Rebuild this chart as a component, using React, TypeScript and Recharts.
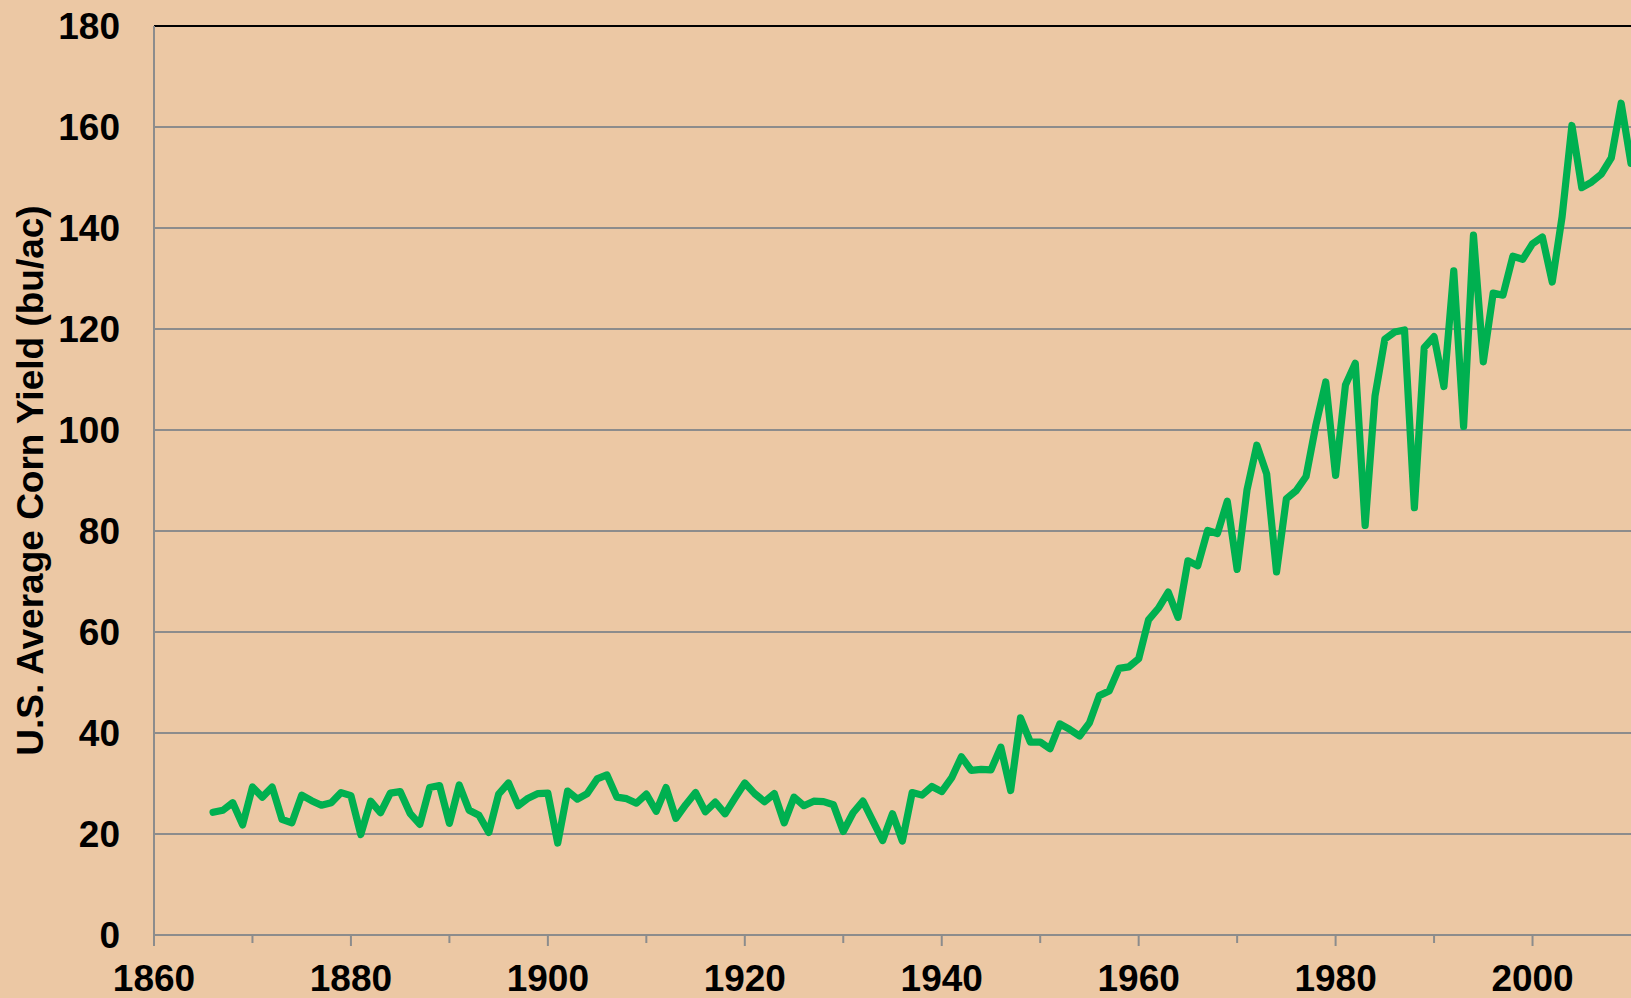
import React from 'react';
import { LineChart, Line, XAxis, YAxis, CartesianGrid, ReferenceLine, Label } from 'recharts';

const years = [
  1866, 1867, 1868, 1869, 1870, 1871, 1872, 1873, 1874, 1875,
  1876, 1877, 1878, 1879, 1880, 1881, 1882, 1883, 1884, 1885,
  1886, 1887, 1888, 1889, 1890, 1891, 1892, 1893, 1894, 1895,
  1896, 1897, 1898, 1899, 1900, 1901, 1902, 1903, 1904, 1905,
  1906, 1907, 1908, 1909, 1910, 1911, 1912, 1913, 1914, 1915,
  1916, 1917, 1918, 1919, 1920, 1921, 1922, 1923, 1924, 1925,
  1926, 1927, 1928, 1929, 1930, 1931, 1932, 1933, 1934, 1935,
  1936, 1937, 1938, 1939, 1940, 1941, 1942, 1943, 1944, 1945,
  1946, 1947, 1948, 1949, 1950, 1951, 1952, 1953, 1954, 1955,
  1956, 1957, 1958, 1959, 1960, 1961, 1962, 1963, 1964, 1965,
  1966, 1967, 1968, 1969, 1970, 1971, 1972, 1973, 1974, 1975,
  1976, 1977, 1978, 1979, 1980, 1981, 1982, 1983, 1984, 1985,
  1986, 1987, 1988, 1989, 1990, 1991, 1992, 1993, 1994, 1995,
  1996, 1997, 1998, 1999, 2000, 2001, 2002, 2003, 2004, 2005,
  2006, 2007, 2008, 2009, 2010,
];

const cornYield = [
  24.3, 24.7, 26.2, 21.8, 29.3, 27.3, 29.3, 22.9, 22.2, 27.7,
  26.6, 25.7, 26.2, 28.2, 27.6, 19.9, 26.5, 24.2, 28.1, 28.4,
  24.1, 21.9, 29.2, 29.6, 22.1, 29.7, 24.7, 23.7, 20.3, 27.9,
  30.1, 25.6, 27.1, 28.0, 28.1, 18.2, 28.5, 26.9, 28.0, 30.9,
  31.7, 27.3, 27.0, 26.1, 27.9, 24.5, 29.2, 23.1, 25.8, 28.2,
  24.4, 26.3, 24.0, 27.1, 30.1, 28.0, 26.4, 28.0, 22.2, 27.3,
  25.6, 26.5, 26.4, 25.8, 20.5, 24.2, 26.5, 22.6, 18.7, 24.0,
  18.6, 28.2, 27.7, 29.4, 28.4, 31.1, 35.3, 32.6, 32.8, 32.7,
  37.2, 28.6, 43.0, 38.2, 38.2, 36.9, 41.8, 40.7, 39.4, 42.0,
  47.4, 48.3, 52.8, 53.1, 54.7, 62.4, 64.7, 67.9, 62.9, 74.1,
  73.1, 80.1, 79.5, 85.9, 72.4, 88.1, 97.0, 91.3, 71.9, 86.4,
  88.0, 90.8, 101.0, 109.5, 91.0, 108.9, 113.2, 81.1, 106.7, 118.0,
  119.4, 119.8, 84.6, 116.3, 118.5, 108.6, 131.5, 100.7, 138.6, 113.5,
  127.1, 126.7, 134.4, 133.8, 136.9, 138.2, 129.3, 142.2, 160.3, 148.0,
  149.1, 150.7, 153.9, 164.7, 152.8,
];

const xTicks = [1860, 1870, 1880, 1890, 1900, 1910, 1920, 1930, 1940, 1950, 1960, 1970, 1980, 1990, 2000];
const xLabelTicks = [1860, 1880, 1900, 1920, 1940, 1960, 1980, 2000];
const yTicks = [0, 20, 40, 60, 80, 100, 120, 140, 160, 180];
const yTitle = 'U.S. Average Corn Yield (bu/ac)';

const data = years.map((year, i) => ({ year, yield: cornYield[i] }));

const FONT = '"Liberation Sans", Arial, Helvetica, sans-serif';
const BG = '#ECC8A4';
const GRID = '#8C8C8C';
const GREEN = '#00B050';
const FS = 37;

const XTick = (props: any) => {
  const { x, y, payload } = props;
  const major = xLabelTicks.includes(payload.value);
  return (
    <g>
      <line x1={x} x2={x} y1={y} y2={y + (major ? 11 : 8)} stroke={GRID} strokeWidth={2} />
      {major && (
        <text x={x} y={y + 56} textAnchor="middle" fill="#000" fontSize={FS} fontWeight="bold" fontFamily={FONT}>
          {payload.value}
        </text>
      )}
    </g>
  );
};

const TitleLabel = (props: any) => {
  const vb = props.viewBox || {};
  const cy = (vb.y ?? 26) + (vb.height ?? 909) / 2;
  const cx = (vb.x ?? 0) + 43;
  return (
    <text
      transform={`translate(${cx},${cy}) rotate(-90)`}
      x={0}
      y={0}
      textAnchor="middle"
      fill="#000"
      fontSize={FS}
      fontWeight="bold"
      fontFamily={FONT}
    >
      {yTitle}
    </text>
  );
};

export default function App() {
  return (
    <div style={{ position: 'absolute', left: 0, top: 0, width: 1631, height: 998, background: BG, overflow: 'hidden' }}>
      <LineChart width={1631} height={998} data={data} margin={{ top: 26, right: 0, left: 0, bottom: 0 }}>
        <CartesianGrid vertical={false} stroke={GRID} strokeWidth={2} />
        <XAxis
          dataKey="year"
          type="number"
          domain={[1860, 2010]}
          ticks={xTicks}
          interval={0}
          height={63}
          tickSize={0}
          tickMargin={0}
          tickLine={false}
          tick={<XTick />}
          axisLine={{ stroke: GRID, strokeWidth: 2 }}
          allowDataOverflow
        />
        <YAxis
          type="number"
          domain={[0, 180]}
          ticks={yTicks}
          interval={0}
          width={154}
          tickSize={0}
          tickMargin={34}
          tickLine={false}
          axisLine={{ stroke: GRID, strokeWidth: 2 }}
          tick={{ fill: '#000', fontSize: FS, fontWeight: 'bold', fontFamily: FONT }}
        >
          <Label content={TitleLabel} />
        </YAxis>
        <ReferenceLine y={180} stroke="#000" strokeWidth={2} />
        <Line
          type="linear"
          dataKey="yield"
          stroke={GREEN}
          strokeWidth={7.2}
          strokeLinecap="round"
          strokeLinejoin="round"
          dot={false}
          activeDot={false}
          isAnimationActive={false}
        />
      </LineChart>
    </div>
  );
}
